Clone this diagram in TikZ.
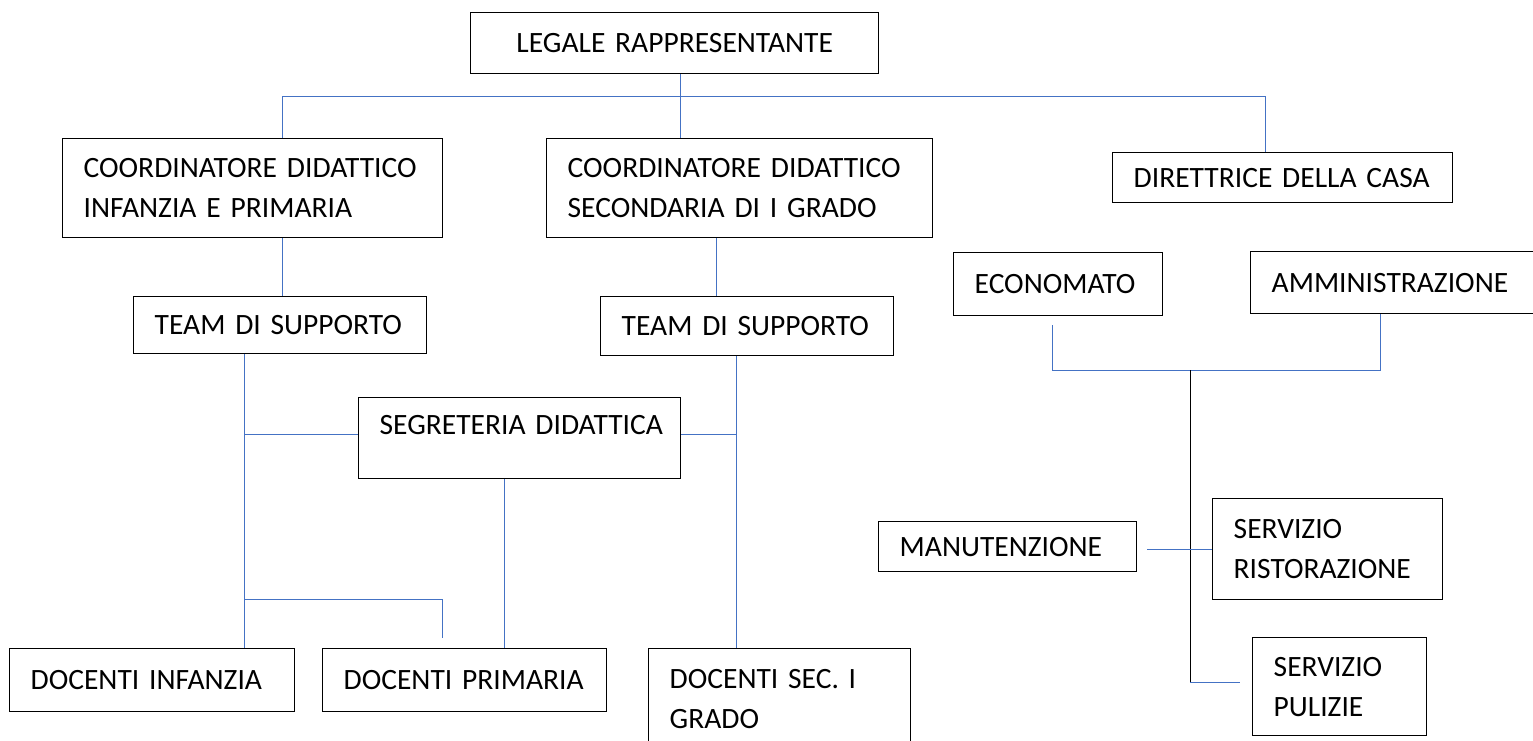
\documentclass[tikz,border=0pt]{standalone}
\usepackage{fontspec}
\setmainfont{Carlito}
\newcommand*\boxpad{21pt}
\newcommand*\boxfont{\fontsize{29.5}{40}\selectfont\fontdimen2\font=3.6pt\relax\hyphenpenalty=10000\relax}
\definecolor{linkblue}{RGB}{68,114,196}
\tikzset{unit/.style 2 args={
    draw,
    line width=1.4pt,
    rectangle,
    anchor=north west,
    inner xsep=\boxpad,
    inner ysep=0pt,
    text width={#1-2*\boxpad},
    minimum height=#2,
    align=left,
    font=\boxfont
}}
\tikzset{link/.style={draw=linkblue, line width=1pt}}
\begin{document}
\begin{tikzpicture}[y=-1pt,x=1pt]

    % Page frame, also cuts the boxes that run off the edge.
    \clip (0,0) rectangle (1533,740);

    % Write the boxes. The coordinate is the top left corner.
    %\node[unit={WIDTH}{HEIGHT}] (NAME) at (X,Y) {TEXT};
    \node[unit={408}{61},align=center] (legale) at (470,12) {LEGALE RAPPRESENTANTE};
    \node[unit={380}{99}] (coordA) at (62,138) {COORDINATORE DIDATTICO\\INFANZIA E PRIMARIA};
    \node[unit={386}{99}] (coordB) at (546,138) {COORDINATORE DIDATTICO\\SECONDARIA DI I GRADO};
    \node[unit={340}{50}] (direttrice) at (1112,152) {DIRETTRICE DELLA CASA};
    \node[unit={209}{63}] (economato) at (953,252) {ECONOMATO};
    \node[unit={300}{62}] (amministrazione) at (1250,251) {AMMINISTRAZIONE};
    \node[unit={293}{57}] (teamA) at (133,296) {TEAM DI SUPPORTO};
    \node[unit={293}{59}] (teamB) at (600,296) {TEAM DI SUPPORTO};
    \node[unit={322}{81},text depth=26pt] (segreteria) at (358,397) {SEGRETERIA~DIDATTICA};
    \node[unit={285}{63}] (infanzia) at (9,648) {DOCENTI INFANZIA};
    \node[unit={284}{63}] (primaria) at (322,648) {DOCENTI PRIMARIA};
    \node[unit={262}{100}] (secondaria) at (648,648) {DOCENTI SEC. I\\GRADO};
    \node[unit={258}{50}] (manutenzione) at (878,521) {MANUTENZIONE};
    \node[unit={230}{101}] (ristorazione) at (1212,498) {SERVIZIO\\RISTORAZIONE};
    \node[unit={174}{98}] (pulizie) at (1252,637) {SERVIZIO\\PULIZIE};

    % Some junctions and loose line ends.
    \coordinate (top) at (680,96);
    \coordinate (topL) at (282,96);
    \coordinate (topR) at (1265,96);
    \coordinate (colB) at (716,0);
    \coordinate (colS) at (504,0);
    \coordinate (spineA) at (244,434);
    \coordinate (spineB) at (736,434);
    \coordinate (branch) at (244,599);
    \coordinate (branchEnd) at (442,638);
    \coordinate (econEnd) at (1052,325);
    \coordinate (adminCol) at (1380,0);
    \coordinate (hub) at (1190,370);
    \coordinate (pulEnd) at (1240,682);
    \coordinate (manEnd) at (1147,549);

    % Draw the top level.
    \draw[link] (legale.south -| top) -- (top);
    \draw[link] (coordA.north -| topL) |- (topR) -- (topR |- direttrice.north);
    \draw[link] (top) -- (top |- coordB.north);

    % Draw the school side.
    \draw[link] (coordA.south -| topL) -- (teamA.north -| topL);
    \draw[link] (coordB.south -| colB) -- (teamB.north -| colB);
    \draw[link] (teamA.south -| spineA) -- (infanzia.north -| spineA);
    \draw[link] (spineA) -- (segreteria.west |- spineA);
    \draw[link] (teamB.south -| spineB) -- (secondaria.north -| spineB);
    \draw[link] (segreteria.east |- spineB) -- (spineB);
    \draw[link] (segreteria.south -| colS) -- (primaria.north -| colS);
    \draw[link] (branch) -| (branchEnd);

    % Draw the house side.
    \draw[link] (econEnd) |- (adminCol |- hub) -- (amministrazione.south -| adminCol);
    \draw[line width=1pt] (hub) -- (hub |- pulEnd);
    \draw[link] (hub |- pulEnd) -- (pulEnd);
    \draw[link] (manEnd) -- (ristorazione.west |- manEnd);

\end{tikzpicture}
\end{document}
